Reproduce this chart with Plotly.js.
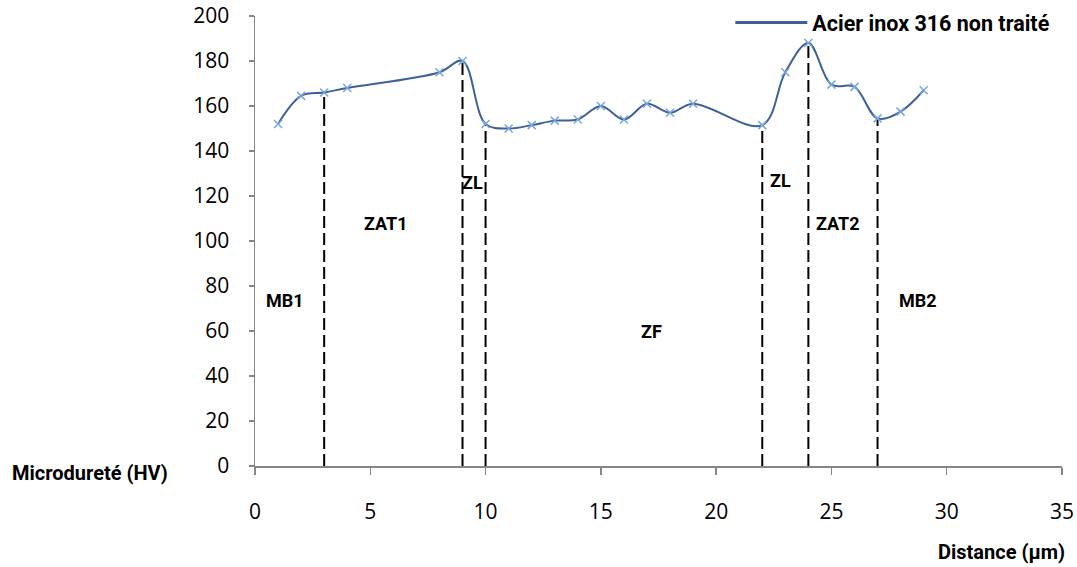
<!DOCTYPE html>
<html><head><meta charset="utf-8">
<script src="https://cdn.plot.ly/plotly-3.0.1.min.js"></script>
<style>body{margin:0;background:#fff}#c{width:1077px;height:567px}</style>
</head><body><div id="c"></div>
<script>
const distance = [1,2,3,4,8,9,10,11,12,13,14,15,16,17,18,19,22,23,24,25,26,27,28,29];
const hardness = [152,164.5,166,168,175,180,152,150,151.5,153.5,154,160,154,161,157,161,151.5,175,188,169.5,168.5,154.5,157.5,167];
const boundaryX = [3,9,10,22,24,27];
const zoneNames = ['MB1','ZAT1','ZL','ZF','ZL','ZAT2','MB2'];
const zoneX = [1.3,5.7,9.45,17.2,22.8,25.3,28.75];
const zoneY = [73.5,108,126,60,127,108,73.5];
const seriesName = 'Acier inox 316 non traité';

const tickFont = "Open Sans, sans-serif";
const boldFont = "Roboto, Open Sans, sans-serif";
const traces = [];
boundaryX.forEach(bx => {
  const i = distance.indexOf(bx);
  traces.push({x:[bx,bx], y:[0,hardness[i]], mode:'lines', showlegend:false, hoverinfo:'skip',
    line:{color:'#000', width:2, dash:'12px,5px'}});
});
traces.push({x:distance, y:hardness, mode:'lines+markers', showlegend:false,
  line:{color:'#3f6199', width:2, shape:'spline', smoothing:1},
  marker:{symbol:'x-thin', size:8, line:{color:'#7aa6dc', width:1.5}, color:'#7aa6dc'}});
traces.push({x:[null], y:[null], mode:'lines', name:seriesName, showlegend:true,
  line:{color:'#3f6199', width:3}});

const annotations = zoneNames.map((t,i)=>({x:zoneX[i], y:zoneY[i], text:t, showarrow:false,
  font:{family:boldFont, size:18, color:'#000', weight:'bold'}}));
annotations.push({xref:'paper', yref:'paper', x:-0.3036, y:-0.016, xanchor:'left', yanchor:'middle', text:'<b>Microdureté (HV)</b>', showarrow:false, font:{family:boldFont, size:20, color:'#000'}});
annotations.push({xref:'paper', yref:'paper', x:1.0062, y:-0.191, xanchor:'right', yanchor:'middle', text:'<b>Distance (µm)</b>', showarrow:false, font:{family:boldFont, size:20, color:'#000'}});

Plotly.newPlot('c', traces, {
  width:1077, height:567,
  margin:{l:255, r:15, t:16, b:101, autoexpand:false},
  paper_bgcolor:'#fff', plot_bgcolor:'#fff',
  xaxis:{range:[0,35], dtick:5, tick0:0, showgrid:false, zeroline:false, showline:true, linecolor:'#868686', linewidth:1.5,
    ticks:'outside', ticklen:7, tickwidth:1.5, tickcolor:'#868686', tickfont:{family:tickFont, size:21, color:'#000'}, ticklabelstandoff:19},
  yaxis:{range:[0,200], dtick:20, tick0:0, showgrid:false, zeroline:false, showline:true, linecolor:'#868686', linewidth:1.5,
    ticks:'outside', ticklen:5, tickwidth:1.5, tickcolor:'#868686', tickfont:{family:tickFont, size:21, color:'#000'}, ticklabelstandoff:15},
  legend:{x:0.589, y:1.031, xanchor:'left', yanchor:'top', bgcolor:'rgba(0,0,0,0)', itemwidth:72,
    font:{family:boldFont, size:21.5, color:'#000', weight:'bold'}},
  annotations:annotations,
  showlegend:true
}, {displayModeBar:false, staticPlot:true});
</script></body></html>
